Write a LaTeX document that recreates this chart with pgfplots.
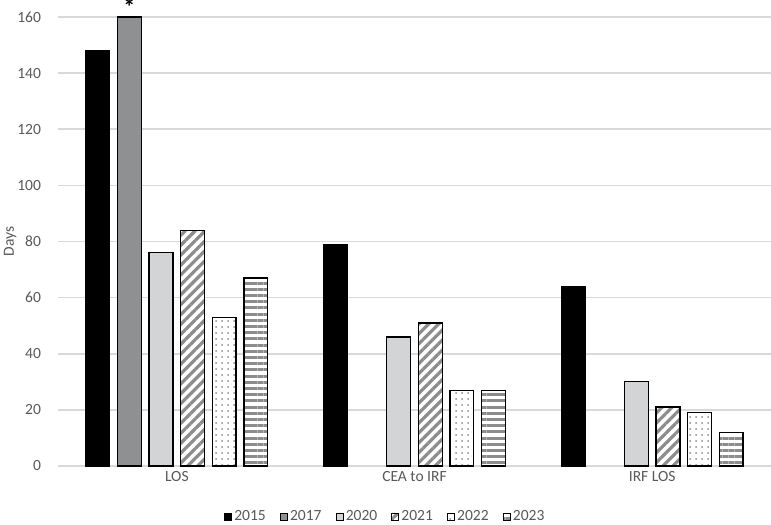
\documentclass[border=0pt]{standalone}
\usepackage{fontspec}
\setmainfont{Carlito}
\usepackage{pgfplots}
\pgfplotsset{compat=1.18}
\usetikzlibrary{patterns.meta, calc}
\definecolor{gridgray}{HTML}{D9D9D9}
\definecolor{txt}{HTML}{595959}
\definecolor{midgray}{HTML}{8F9092}
\definecolor{lightgray}{HTML}{D3D4D5}
\definecolor{patgray}{HTML}{8C8C8C}

\begin{document}
\begin{tikzpicture}
\begin{axis}[
    scale only axis,
    width=356.5bp, height=224.5bp,
    ybar, bar width=0.1,
    xmin=-0.5, xmax=2.5, ymin=0, ymax=160,
    xtick={0,1,2}, xticklabels={LOS, CEA to IRF, IRF LOS},
    ytick={0,20,...,160},
    ymajorgrids,
    major grid style={draw=gridgray, line width=0.75bp},
    axis line style={draw=none},
    major tick length=0pt,
    tick label style={font=\fontsize{7.8}{9}\selectfont, text=txt},
    /pgf/number format/assume math mode=true,
    yticklabel style={xshift=-5bp},
    xticklabel style={yshift=1bp},
    ylabel={Days},
    ylabel style={at={(axis description cs:-0.067,0.5)}, anchor=center, font=\fontsize{7.8}{9}\selectfont, text=txt},
    clip=false,
    legend image code/.code={\draw[#1, line width=0.5bp] (0bp,-1.8bp) rectangle (3.6bp,1.8bp);},
    legend columns=6,
    legend style={draw=none, fill=none, at={(0.459,-0.1136)}, anchor=center,
        font=\fontsize{7.8}{9}\selectfont, text=txt,
        /tikz/every even column/.append style={column sep=6bp},
        nodes={inner xsep=1bp}},
    every axis plot/.append style={draw=black, line width=0.65bp},
]
% 2015
\addplot[fill=black, bar shift=-0.3325] coordinates {(0,148) (1,79) (2,64)};
% 2017 (only LOS reported)
\addplot[fill=midgray, bar shift=-0.1995] coordinates {(0,160)};
% 2020
\addplot[fill=lightgray, bar shift=-0.0665] coordinates {(0,76) (1,46) (2,30)};
% 2021
\addplot[fill=white, postaction={pattern={Lines[angle=45,distance=3.5bp,line width=1.6bp]}, pattern color=patgray}, bar shift=0.0665] coordinates {(0,84) (1,51) (2,21)};
% 2022
\addplot[fill=white, postaction={pattern={Dots[distance=3bp,radius=0.5bp]}, pattern color=patgray}, bar shift=0.1995] coordinates {(0,53) (1,27) (2,19)};
% 2023
\addplot[fill=white, postaction={pattern={Lines[angle=0,distance=3.1bp,line width=1.5bp]}, pattern color=patgray}, bar shift=0.3325] coordinates {(0,67) (1,27) (2,12)};
\legend{2015,2017,2020,2021,2022,2023}
\node[anchor=south, inner sep=0.3bp, font=\fontsize{12}{13}\selectfont\bfseries] at (axis cs:-0.1995,160) {*};
\end{axis}
\pgfresetboundingbox
\path ($(current axis.south west)+(-29bp,-29.5bp)$) rectangle ($(current axis.south west)+(356.5bp,233bp)$);
\end{tikzpicture}
\end{document}
